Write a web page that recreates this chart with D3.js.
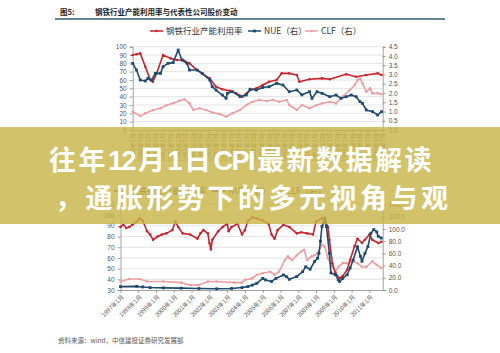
<!DOCTYPE html>
<html>
<head>
<meta charset="utf-8">
<script src="https://cdn.jsdelivr.net/npm/d3@7/dist/d3.min.js"></script>
<style>
body { margin: 0; background: #fff; }
svg { display: block; font-family: "Noto Sans CJK SC", "Noto Sans", sans-serif; }
</style>
</head>
<body>
<svg id="chart" width="500" height="353"></svg>
<script>

// ---- data ----
const figLabel = "图5:";
const figTitle = "钢铁行业产能利用率与代表性公司股价变动";
const legendNames = ["钢铁行业产能利用率", "NUE（右）", "CLF（右）"];
const sourceNote = "资料来源：wind，中信建投证券研究发展部";
const bannerLines = ["往年12月1日CPI最新数据解读", "，通胀形势下的多元视角与观"];

// top panel
const topLeftTicks = [0, 10, 20, 30, 40, 50, 60, 70, 80, 90, 100];
const topRightTicks = [0, 0.5, 1, 1.5, 2, 2.5, 3, 3.5, 4, 4.5];
const topUtil = [["1980-01",90],["1980-04",91],["1980-07",92],["1980-11",76],["1981-03",60],["1981-05",58],
  ["1981-08",68],["1982-01",90],["1982-07",86],["1982-12",84],["1983-05",84],["1983-10",80],["1984-04",72],
  ["1984-08",68],["1985-02",62],["1985-07",52],["1985-12",49],["1986-06",47],["1986-11",44],["1987-04",40],
  ["1987-10",48],["1988-03",50],["1988-08",54],["1989-01",58],["1989-07",60],["1989-11",68],["1990-05",68],
  ["1990-11",66],["1991-01",58],["1991-09",61],["1992-07",62],["1993-01",61],["1994-02",67],["1994-10",64],
  ["1995-06",66],["1996-03",68],["1996-06",66]];
const topNue = [["1980-01",3.6],["1980-04",3.24],["1980-07",2.7],["1980-11",2.65],["1981-01",2.79],["1981-04",2.7],
  ["1981-07",3.06],["1981-11",3.06],["1982-01",3.42],["1982-05",3.6],["1982-09",3.64],["1983-01",4.32],
  ["1983-04",3.78],["1983-08",3.6],["1983-10",3.24],["1984-04",3.24],["1984-08",3.06],["1985-02",2.7],
  ["1985-04",2.34],["1985-07",2.16],["1985-12",1.89],["1986-03",1.71],["1986-04",1.98],["1986-08",2.07],
  ["1987-02",1.8],["1987-07",1.89],["1987-10",2.2],["1988-03",2.16],["1988-08",2.3],["1989-01",2.34],
  ["1989-07",2.52],["1989-12",2.43],["1990-05",2.07],["1990-11",2.16],["1991-03",1.9],["1991-09",2.07],
  ["1991-11",1.71],["1992-03",2.07],["1992-07",1.98],["1993-01",1.8],["1993-06",1.89],["1993-10",1.71],
  ["1994-02",1.8],["1994-06",1.89],["1994-10",1.8],["1995-01",1.53],["1995-03",1.44],["1995-06",1.08],
  ["1995-11",0.99],["1996-03",0.81],["1996-06",0.99]];
const topClf = [["1980-01",0.99],["1980-07",0.76],["1980-11",0.9],["1981-05",1.08],["1981-11",1.17],["1982-04",1.35],
  ["1982-09",1.44],["1983-02",1.58],["1983-06",1.66],["1983-10",1.44],["1984-01",1.08],["1984-06",1.17],
  ["1984-11",1.08],["1985-04",0.94],["1985-10",0.86],["1986-03",0.72],["1986-08",0.9],["1987-02",1.08],
  ["1987-07",1.35],["1987-12",1.53],["1988-05",1.62],["1988-11",1.57],["1989-04",1.62],["1989-09",1.53],
  ["1990-03",1.62],["1990-05",1.35],["1990-11",1.08],["1991-03",1.35],["1991-09",1.17],["1992-03",1.35],
  ["1992-07",1.44],["1993-01",1.53],["1993-06",1.44],["1993-11",1.8],["1994-05",2.16],["1994-09",2.43],
  ["1994-11",2.7],["1995-01",2.79],["1995-03",2.52],["1995-06",2.07],["1995-09",2.25],["1995-11",1.98],
  ["1996-03",1.98],["1996-06",1.94]];

// bottom panel
const botLeftTicks = [30, 40, 50, 60, 70, 80, 90, 100, 110];
const botRightTicks = [0, 20, 40, 60, 80, 100, 120, 140];
const botUtil = [["1997-01",89],["1997-03",91],["1997-05",88],["1997-07",89],["1997-09",91],["1997-12",94],
  ["1998-02",97],["1998-04",95],["1998-07",85],["1998-09",82],["1998-11",77],["1999-02",80],["1999-05",82],
  ["1999-08",83],["1999-12",86],["2000-02",94],["2000-04",89],["2000-07",83],["2000-12",82],["2001-05",78],
  ["2001-07",83],["2001-09",86],["2001-12",83],["2002-01",74],["2002-02",68],["2002-03",77],["2002-07",85],
  ["2002-10",89],["2003-01",92],["2003-02",85],["2003-04",89],["2003-08",92],["2003-11",82],["2004-01",86],
  ["2004-03",95],["2004-06",98],["2004-09",97],["2005-01",95],["2005-05",92],["2005-07",82],["2005-09",78],
  ["2005-11",86],["2006-03",91],["2006-07",89],["2006-12",83],["2007-03",84],["2007-07",83],["2007-11",82],
  ["2008-01",94],["2008-05",97],["2008-07",95],["2008-09",89],["2008-10",77],["2008-12",55],["2009-02",46],
  ["2009-05",41],["2009-07",43],["2009-10",49],["2009-12",58],["2010-03",71],["2010-05",78],["2010-08",74],
  ["2010-10",77],["2011-01",82],["2011-03",77],["2011-07",74],["2011-09",75]];
const botNue = [["1997-01",5.5],["1997-12",6],["1998-04",5],["1998-09",4],["1999-06",3.5],["2000-06",3],
  ["2001-06",2.5],["2002-06",2],["2003-04",2.5],["2003-11",4],["2004-03",5.5],["2004-06",8],["2004-09",11],
  ["2005-01",19],["2005-03",16.5],["2005-07",14],["2005-10",19],["2006-03",24.7],["2006-05",22],["2006-07",17.5],
  ["2006-12",22],["2007-04",30],["2007-06",38],["2007-09",34],["2007-12",46.6],["2008-02",52],["2008-03",60],
  ["2008-04",80],["2008-05",104],["2008-06",110],["2008-07",118],["2008-08",104],["2008-10",60],["2008-11",28],
  ["2009-02",25],["2009-04",16.5],["2009-05",14],["2009-07",19],["2009-10",25],["2009-12",36],["2010-02",49],
  ["2010-05",71],["2010-07",55],["2010-08",47],["2010-10",60],["2010-12",71],["2011-02",93],["2011-04",99],
  ["2011-06",95],["2011-07",88],["2011-09",85]];
const botClf = [["1997-01",14],["1997-07",18],["1998-02",18],["1998-07",14],["1999-06",14],["2000-06",12],
  ["2000-12",8],["2001-06",8],["2001-12",14],["2002-06",14],["2003-06",12],["2003-11",12],["2004-01",16.5],
  ["2004-06",19],["2004-09",25],["2005-01",27.5],["2005-06",30],["2005-09",25],["2005-12",30],["2006-04",49],
  ["2006-06",55],["2006-07",52],["2006-09",49],["2006-12",57],["2007-03",63],["2007-05",66],["2007-07",49],
  ["2007-10",55],["2007-12",57],["2008-02",60],["2008-05",74],["2008-07",71],["2008-09",52],["2008-12",38],
  ["2009-02",30],["2009-04",38],["2009-07",44],["2009-10",44],["2010-02",47],["2010-05",44],["2010-08",38],
  ["2010-11",38],["2011-03",47],["2011-06",41],["2011-09",36]];

// ---- style ----
const colors = ["#c9232c", "#1d4a6e", "#ec9fa3"];
const axisColor = "#8a8a8a";
const labelColor = "#555";
const gridColor = "#dcdcdc";

const parseMonth = d3.timeParse("%Y-%m");
const svg = d3.select("#chart");

// header
svg.append("text").attr("x", 60).attr("y", 15).attr("font-size", 7.5).attr("font-weight", "bold")
  .attr("fill", "#222").text(figLabel);
svg.append("text").attr("x", 95).attr("y", 15).attr("font-size", 7.5).attr("font-weight", "bold")
  .attr("fill", "#222").text(figTitle);
svg.append("line").attr("x1", 55).attr("x2", 445).attr("y1", 19).attr("y2", 19)
  .attr("stroke", "#2f5d75").attr("stroke-width", 1.6);

function marker(sel, i, cx, cy) {
  if (i === 1) {
    sel.append("rect").attr("x", cx - 1.4).attr("y", cy - 1.4).attr("width", 2.8).attr("height", 2.8).attr("fill", colors[i]);
  } else {
    sel.append("circle").attr("cx", cx).attr("cy", cy).attr("r", 1.3).attr("fill", colors[i]);
  }
}

function drawLegend(y, xs) {
  legendNames.forEach(function(name, i) {
    const g = svg.append("g").attr("transform", "translate(" + xs[i] + "," + y + ")");
    g.append("line").attr("x1", 0).attr("x2", 13).attr("y1", 0).attr("y2", 0)
      .attr("stroke", colors[i]).attr("stroke-width", 1.5);
    marker(g, i, 6.5, 0);
    g.append("text").attr("x", 16).attr("y", 3).attr("font-size", 8.5).attr("fill", "#333").text(name);
  });
}

function drawPanel(cfg) {
  const x = d3.scaleTime().domain(cfg.xDomain).range([cfg.left, cfg.right]);
  const yL = d3.scaleLinear().domain(cfg.yLDomain).range([cfg.bottom, cfg.top]);
  const yR = d3.scaleLinear().domain(cfg.yRDomain).range([cfg.bottom, cfg.top]);
  const g = svg.append("g");

  // grid
  g.selectAll(".grid").data(cfg.leftTicks.slice(1)).enter().append("line")
    .attr("x1", cfg.left).attr("x2", cfg.right)
    .attr("y1", d => yL(d)).attr("y2", d => yL(d))
    .attr("stroke", gridColor).attr("stroke-width", 0.8);

  // axes
  const axL = g.append("g").attr("transform", "translate(" + cfg.left + ",0)")
    .call(d3.axisLeft(yL).tickValues(cfg.leftTicks).tickSize(3).tickPadding(3).tickFormat(d3.format("d")));
  const axR = g.append("g").attr("transform", "translate(" + cfg.right + ",0)")
    .call(d3.axisRight(yR).tickValues(cfg.rightTicks).tickSize(3).tickPadding(3).tickFormat(d3.format(".1f")));
  const axB = g.append("g").attr("transform", "translate(0," + cfg.bottom + ")")
    .call(d3.axisBottom(x).tickValues(cfg.xTicks).tickSize(3).tickSizeOuter(0).tickFormat(d3.timeFormat("%Y年%-m月")));
  [axL, axR, axB].forEach(function(a) {
    a.selectAll("path, line").attr("stroke", axisColor).attr("stroke-width", 0.8);
    a.selectAll("text").attr("fill", labelColor).attr("font-size", 6.5)
      .attr("font-family", "Liberation Sans, Arial, sans-serif");
  });
  axB.selectAll("text").attr("font-size", 6).attr("font-family", "Noto Sans CJK SC, sans-serif");
  if (cfg.rotate === -90) {
    axB.selectAll("text").attr("text-anchor", "end").attr("dy", "0.32em")
      .attr("transform", "translate(0,-1) rotate(-90) translate(-4,0)").attr("y", 0).attr("x", 0);
  } else {
    axB.selectAll("text").attr("text-anchor", "end").attr("dy", "0.32em").attr("y", 0).attr("x", 0)
      .attr("transform", "translate(2,6) rotate(-45)");
  }

  // series
  const series = [
    {data: cfg.util, y: yL},
    {data: cfg.nue, y: yR},
    {data: cfg.clf, y: yR}
  ];
  [2, 0, 1].forEach(function(i) {
    const s = series[i];
    const pts = s.data.map(d => [parseMonth(d[0]), d[1]]);
    const line = d3.line().x(d => x(d[0])).y(d => s.y(d[1]));
    g.append("path").datum(pts).attr("d", line).attr("fill", "none")
      .attr("stroke", colors[i]).attr("stroke-width", 1.6).attr("stroke-linejoin", "round");
    const mg = g.append("g");
    pts.forEach(d => marker(mg, i, x(d[0]), s.y(d[1])));
  });
}

// top panel
drawLegend(31, [150, 248, 305]);
drawPanel({
  left: 132.7, right: 382.7, top: 46.7, bottom: 130,
  xDomain: [new Date(1980, 0, 1), new Date(1996, 6, 1)],
  xTicks: d3.timeMonth.every(6).range(new Date(1980, 0, 1), new Date(1996, 7, 1)),
  yLDomain: [0, 100], yRDomain: [0, 4.5],
  leftTicks: topLeftTicks, rightTicks: topRightTicks,
  util: topUtil, nue: topNue, clf: topClf, rotate: -90
});

// bottom panel
drawLegend(191, [114, 212, 270]);
drawPanel({
  left: 120.5, right: 382.7, top: 204.5, bottom: 290,
  xDomain: [new Date(1997, 0, 1), new Date(2011, 9, 1)],
  xTicks: d3.timeYear.range(new Date(1997, 0, 1), new Date(2011, 1, 1)),
  yLDomain: [30, 110], yRDomain: [0, 140],
  leftTicks: botLeftTicks, rightTicks: botRightTicks,
  util: botUtil, nue: botNue, clf: botClf, rotate: -45
});

// source
svg.append("text").attr("x", 58).attr("y", 343).attr("font-size", 6.5).attr("fill", labelColor).text(sourceNote);

// banner overlay
svg.append("rect").attr("x", 0).attr("y", 127).attr("width", 500).attr("height", 97)
  .attr("fill", "rgb(200,181,72)").attr("opacity", 0.82);
const bannerX = [49, 55];
const bannerCjkGap = [2.5, 3.5];
bannerLines.forEach(function(t, i) {
  const txt = svg.append("text").attr("x", bannerX[i]).attr("y", 170 + i * 38)
    .attr("font-size", 27).attr("font-weight", "bold").attr("fill", "#fff")
    .attr("font-family", "Liberation Sans, Noto Sans CJK SC, sans-serif");
  // latin runs are set tighter than the CJK runs, with a small gap before the next CJK glyph
  t.match(/[\x00-\x7f]+|[^\x00-\x7f]+/g).forEach(function(run) {
    if (/^[\x00-\x7f]+$/.test(run)) {
      if (run.length > 1) txt.append("tspan").attr("letter-spacing", -1.5).text(run.slice(0, -1));
      txt.append("tspan").attr("letter-spacing", 1.5).text(run.slice(-1));
    } else {
      txt.append("tspan").attr("letter-spacing", bannerCjkGap[i]).text(run);
    }
  });
});
</script>
</body>
</html>
